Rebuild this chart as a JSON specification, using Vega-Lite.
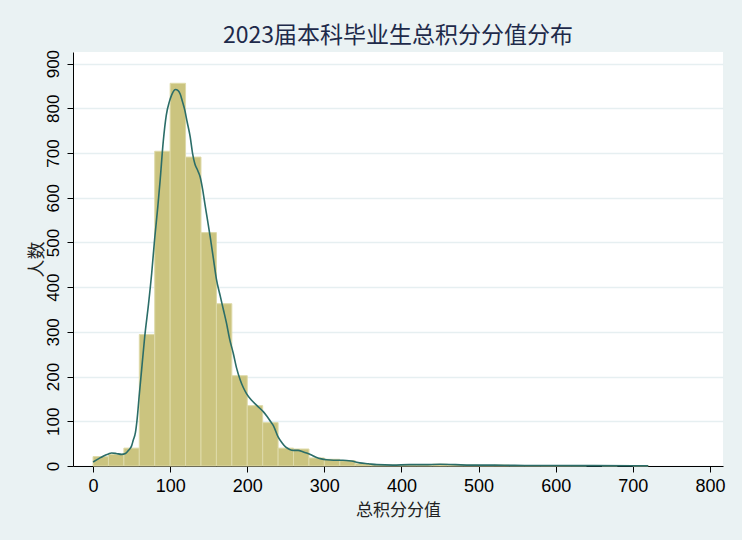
{
  "$schema": "https://vega.github.io/schema/vega-lite/v6.json",
  "width": 650,
  "height": 414,
  "autosize": {"type": "none"},
  "padding": {"left": 73, "top": 52, "right": 19, "bottom": 74},
  "background": "#eaf2f3",
  "config": {
    "view": {"fill": "white", "stroke": null},
    "font": "Liberation Sans"
  },
  "title": {
    "text": "2023届本科毕业生总积分分值分布",
    "font": "Noto Sans CJK SC",
    "fontSize": 23,
    "fontWeight": "normal",
    "color": "#1e2a4a",
    "anchor": "middle",
    "offset": 1
  },
  "datasets": {
    "hist": [
      {"b0": 0, "b1": 20, "n": 21},
      {"b0": 20, "b1": 40, "n": 26},
      {"b0": 40, "b1": 60, "n": 40},
      {"b0": 60, "b1": 80, "n": 294},
      {"b0": 80, "b1": 100, "n": 704},
      {"b0": 100, "b1": 120, "n": 856},
      {"b0": 120, "b1": 140, "n": 691},
      {"b0": 140, "b1": 160, "n": 522},
      {"b0": 160, "b1": 180, "n": 363},
      {"b0": 180, "b1": 200, "n": 202},
      {"b0": 200, "b1": 220, "n": 135},
      {"b0": 220, "b1": 240, "n": 97},
      {"b0": 240, "b1": 260, "n": 40},
      {"b0": 260, "b1": 280, "n": 38},
      {"b0": 280, "b1": 300, "n": 18},
      {"b0": 300, "b1": 320, "n": 15},
      {"b0": 320, "b1": 340, "n": 12},
      {"b0": 340, "b1": 360, "n": 5},
      {"b0": 360, "b1": 380, "n": 3},
      {"b0": 380, "b1": 400, "n": 2},
      {"b0": 400, "b1": 420, "n": 3},
      {"b0": 420, "b1": 440, "n": 3},
      {"b0": 440, "b1": 460, "n": 4},
      {"b0": 460, "b1": 480, "n": 3},
      {"b0": 480, "b1": 500, "n": 2},
      {"b0": 500, "b1": 520, "n": 1},
      {"b0": 520, "b1": 540, "n": 2},
      {"b0": 540, "b1": 560, "n": 1},
      {"b0": 560, "b1": 580, "n": 1},
      {"b0": 580, "b1": 600, "n": 1},
      {"b0": 600, "b1": 620, "n": 1},
      {"b0": 620, "b1": 640, "n": 1},
      {"b0": 660, "b1": 680, "n": 1},
      {"b0": 700, "b1": 720, "n": 1}
    ],
    "kde": [
      {"x": 0, "d": 9}, {"x": 7, "d": 16}, {"x": 13, "d": 22}, {"x": 20, "d": 27},
      {"x": 24, "d": 29}, {"x": 30, "d": 28}, {"x": 37, "d": 26}, {"x": 42, "d": 28},
      {"x": 46, "d": 35}, {"x": 50, "d": 45}, {"x": 52, "d": 57}, {"x": 55, "d": 75},
      {"x": 57, "d": 102}, {"x": 60, "d": 160}, {"x": 63, "d": 215}, {"x": 67, "d": 289},
      {"x": 72, "d": 363}, {"x": 76, "d": 430}, {"x": 80, "d": 510}, {"x": 84, "d": 580},
      {"x": 87, "d": 639}, {"x": 91, "d": 725}, {"x": 95, "d": 785}, {"x": 99, "d": 815},
      {"x": 102, "d": 830}, {"x": 105, "d": 840}, {"x": 107, "d": 842}, {"x": 110, "d": 840},
      {"x": 113, "d": 832}, {"x": 116, "d": 815}, {"x": 119, "d": 796}, {"x": 122, "d": 770},
      {"x": 126, "d": 736}, {"x": 129, "d": 700}, {"x": 132, "d": 676}, {"x": 136, "d": 660},
      {"x": 139, "d": 646}, {"x": 142, "d": 620}, {"x": 145, "d": 587}, {"x": 148, "d": 555},
      {"x": 152, "d": 512}, {"x": 156, "d": 465}, {"x": 160, "d": 418}, {"x": 165, "d": 380},
      {"x": 169, "d": 350}, {"x": 173, "d": 320}, {"x": 177, "d": 285}, {"x": 182, "d": 251},
      {"x": 186, "d": 220}, {"x": 191, "d": 192}, {"x": 195, "d": 175}, {"x": 199, "d": 162},
      {"x": 205, "d": 148}, {"x": 212, "d": 136}, {"x": 217, "d": 128}, {"x": 221, "d": 121},
      {"x": 226, "d": 110}, {"x": 230, "d": 100}, {"x": 234, "d": 90}, {"x": 240, "d": 65},
      {"x": 245, "d": 52}, {"x": 250, "d": 42}, {"x": 255, "d": 37}, {"x": 260, "d": 35},
      {"x": 266, "d": 35}, {"x": 272, "d": 32}, {"x": 277, "d": 29}, {"x": 284, "d": 24},
      {"x": 290, "d": 19}, {"x": 296, "d": 16}, {"x": 303, "d": 14}, {"x": 312, "d": 13},
      {"x": 324, "d": 13}, {"x": 335, "d": 11}, {"x": 346, "d": 7}, {"x": 357, "d": 5},
      {"x": 368, "d": 3}, {"x": 389, "d": 2}, {"x": 410, "d": 3}, {"x": 430, "d": 3},
      {"x": 450, "d": 4}, {"x": 470, "d": 3}, {"x": 490, "d": 2}, {"x": 520, "d": 2},
      {"x": 540, "d": 1.5}, {"x": 560, "d": 1}, {"x": 600, "d": 1}, {"x": 650, "d": 0.8},
      {"x": 700, "d": 0.6}, {"x": 720, "d": 0.5}
    ]
  },
  "layer": [
    {
      "data": {"name": "hist"},
      "mark": {"type": "rect", "fill": "#cbc47f", "stroke": "#dedaa9", "strokeWidth": 1},
      "encoding": {
        "x": {
          "field": "b0",
          "type": "quantitative",
          "scale": {"domain": [-26, 817], "nice": false, "zero": false},
          "axis": {
            "values": [0, 100, 200, 300, 400, 500, 600, 700, 800],
            "grid": false,
            "domainColor": "#000000",
            "domainWidth": 1,
            "tickColor": "#000000",
            "tickSize": 6,
            "labelFontSize": 18,
            "labelColor": "#000000",
            "labelPadding": 5,
            "labelFlush": false,
            "title": "总积分分值",
            "titleFont": "Noto Sans CJK SC",
            "titleFontSize": 17,
            "titleFontWeight": "normal",
            "titleColor": "#222222",
            "titlePadding": 7
          }
        },
        "x2": {"field": "b1"},
        "y": {
          "field": "n",
          "type": "quantitative",
          "scale": {"domain": [0, 926], "nice": false},
          "axis": {
            "values": [0, 100, 200, 300, 400, 500, 600, 700, 800, 900],
            "grid": true,
            "gridColor": "#e6eff1",
            "gridWidth": 1.5,
            "domainColor": "#000000",
            "domainWidth": 1,
            "tickColor": "#000000",
            "tickSize": 6,
            "labelFontSize": 17,
            "labelColor": "#000000",
            "labelAngle": 270,
            "labelAlign": "center",
            "labelBaseline": "bottom",
            "labelPadding": 5,
            "labelFlush": false,
            "title": "人数",
            "titleFont": "Noto Sans CJK SC",
            "titleFontSize": 18,
            "titleFontWeight": "normal",
            "titleColor": "#222222",
            "titleAngle": 270,
            "titleAlign": "center",
            "titleBaseline": "middle",
            "titleX": -36,
            "titleY": 207
          }
        },
        "y2": {"datum": 0}
      }
    },
    {
      "data": {"name": "kde"},
      "mark": {"type": "line", "color": "#2b6d68", "strokeWidth": 1.6, "interpolate": "monotone"},
      "encoding": {
        "x": {"field": "x", "type": "quantitative"},
        "y": {"field": "d", "type": "quantitative"}
      }
    }
  ]
}
